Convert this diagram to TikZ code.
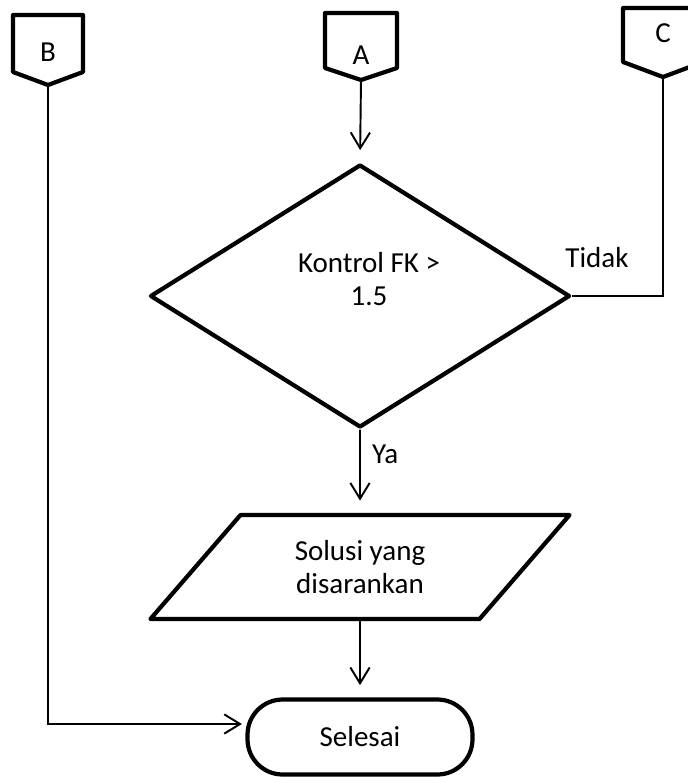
\documentclass[tikz,border=0pt]{standalone}
\usepackage{fontspec}
\setmainfont{Carlito}
\usetikzlibrary{arrows.meta,shapes.geometric}

\begin{document}
\begin{tikzpicture}[x=0.02cm,y=-0.02cm,font=\fontsize{16.5}{19}\selectfont,>={Straight Barb[length=9pt,width=11pt]},
  shp/.style={line width=2.4pt,line join=round},
  line/.style={line width=1.1pt},
  arr/.style={line width=1.1pt,->,shorten >=7pt},
  dia/.style={shp,draw,diamond,minimum width=8.4cm,minimum height=5.26cm,inner sep=0pt},
  io/.style={shp,draw,trapezium,trapezium left angle=50.7,trapezium right angle=129.3,trapezium stretches=true,minimum width=8.4cm,minimum height=2.08cm,align=center},
  term/.style={shp,draw,rounded corners=20pt,minimum width=4.5cm,minimum height=1.5cm}]
\useasboundingbox (0,0) rectangle (688,777);
% off-page connectors
\draw[shp] (13,15) -- (83,15) -- (83,72) -- (48,85) -- (13,72) -- cycle;
\node (B) at (48,52) {B};
\coordinate (Bt) at (48,85);
\draw[shp] (325,13) -- (397,13) -- (397,68) -- (361,80) -- (325,68) -- cycle;
\node (A) at (361,55) {A};
\coordinate (At) at (361,80);
\draw[shp] (623,8) -- (703,8) -- (703,62) -- (663,77) -- (623,62) -- cycle;
\node (C) at (663,33) {C};
\coordinate (Ct) at (663,77);
% decision
\node[dia] (cek) at (360,296) {};
\node[align=center] (cekt) at (369,279) {Kontrol FK >\\1.5};
\node (tdk) at (597,258) {Tidak};
\node[io] (sol) at (360,567) {Solusi yang\\disarankan};
\node[term] (sel) at (360,737) {Selesai};
\draw[arr] (At) -- (cek.north);
\draw[line] (Ct) |- (cek.east);
\draw[arr] (cek.south) -- node[pos=0.3,right=3pt] (ya) {Ya} (sol.north);
\draw[arr] (sol.south) -- (sel.north);
\draw[line,->,shorten >=2pt] (Bt) |- ([yshift=0.26cm]sel.west);
\end{tikzpicture}
\end{document}
